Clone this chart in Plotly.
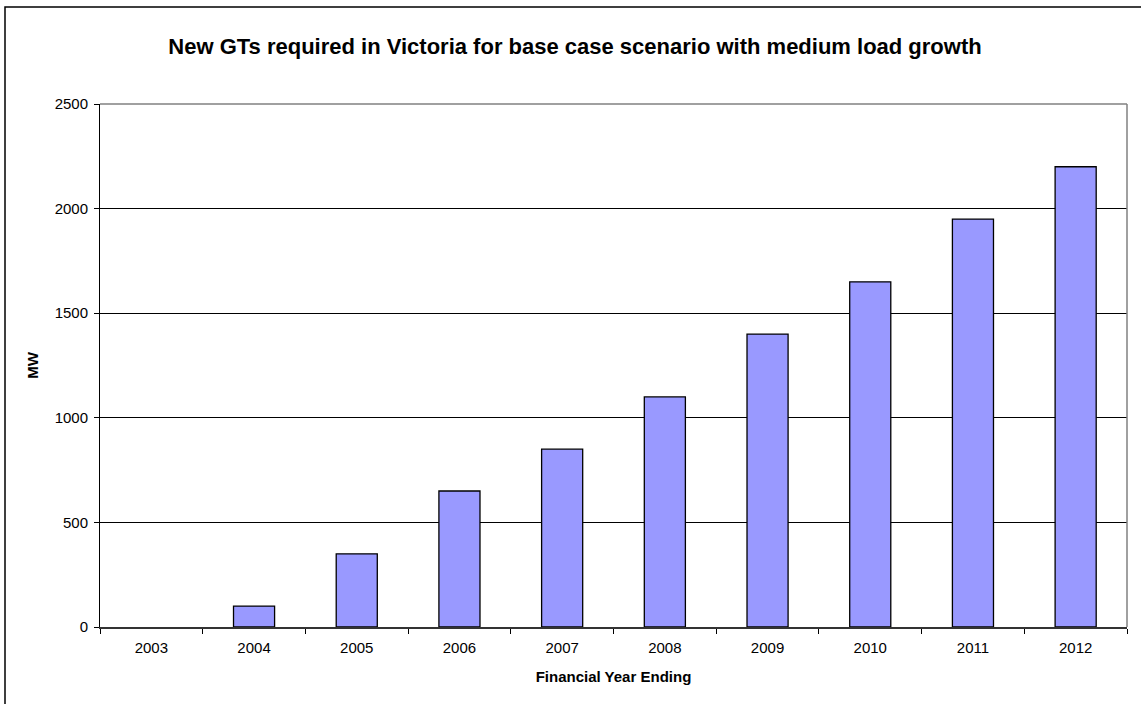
import plotly.graph_objects as go

years = ["2003", "2004", "2005", "2006", "2007", "2008", "2009", "2010", "2011", "2012"]
mw = [0, 100, 350, 650, 850, 1100, 1400, 1650, 1950, 2200]
y_ticks = [0, 500, 1000, 1500, 2000, 2500]

W, H = 1141, 704
L, R, T, B = 100, 14, 104, 77
pw, ph = W - L - R, H - T - B

def px(x):
    return (x - L) / pw

def py(y):
    return (H - B - y) / ph

outline = [0 if v == 0 else 1.3 for v in mw]

fig = go.Figure()
fig.add_trace(go.Bar(
    x=years, y=mw, width=0.4,
    marker=dict(color="#9999FF", line=dict(color="black", width=outline)),
))

fig.update_layout(
    width=W, height=H,
    margin=dict(l=L, r=R, t=T, b=B),
    paper_bgcolor="white", plot_bgcolor="white",
    font=dict(family="Liberation Sans, Arial, sans-serif", color="black", size=15),
    showlegend=False,
    title=dict(text="<b>New GTs required in Victoria for base case scenario with medium load growth</b>",
               x=575 / W, xref="container", xanchor="center",
               y=1 - 46 / H, yref="container", yanchor="middle",
               font=dict(size=22)),
    xaxis=dict(
        type="category", tickson="boundaries", ticks="outside", ticklen=5,
        tickcolor="black", showline=True, linecolor="#333333", linewidth=1.5,
        showgrid=False, ticklabelstandoff=6,
        title=dict(text="<b>Financial Year Ending</b>", font=dict(size=15), standoff=17),
        tickfont=dict(size=15),
    ),
    yaxis=dict(
        range=[0, 2500], tickvals=y_ticks, ticks="outside", ticklen=5, tickcolor="black",
        showline=True, linecolor="black", linewidth=1, ticklabelstandoff=3,
        showgrid=True, gridcolor="black", gridwidth=1, zeroline=False,
        title=dict(text="<b>MW</b>", font=dict(size=15), standoff=12),
        tickfont=dict(size=15),
    ),
    bargap=0.6,
)

# plot-area top/right border (grey)
fig.add_shape(type="line", xref="paper", yref="paper", x0=0, x1=1, y0=1, y1=1,
              line=dict(color="#808080", width=1.5))
fig.add_shape(type="line", xref="paper", yref="paper", x0=1, x1=1, y0=0, y1=1,
              line=dict(color="#808080", width=1.5))
# outer chart border
fig.add_shape(type="rect", xref="paper", yref="paper",
              x0=px(5), x1=px(W + 10), y0=py(H + 10), y1=py(7),
              line=dict(color="black", width=1.5), fillcolor="rgba(0,0,0,0)")

fig.write_html("out.html")
